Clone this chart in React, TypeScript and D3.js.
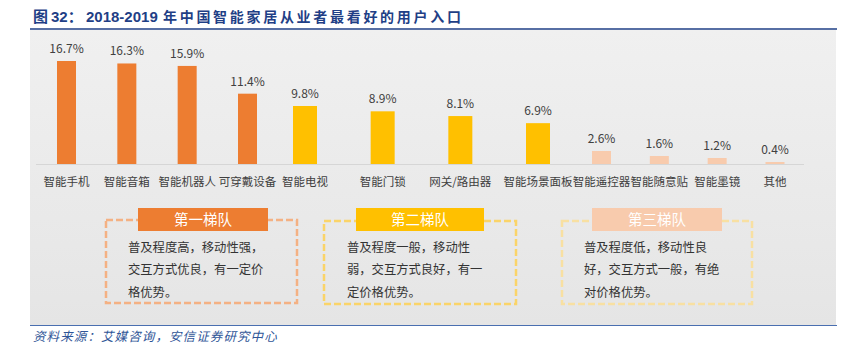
import React from "react";
import * as d3 from "d3";

const tier1Cats = ["智能手机", "智能音箱", "智能机器人", "可穿戴设备"];
const tier1Vals = [16.7, 16.3, 15.9, 11.4];
const tier2Cats = ["智能电视", "智能门锁", "网关/路由器", "智能场景面板"];
const tier2Vals = [9.8, 8.9, 8.1, 6.9];
const tier3Cats = ["智能遥控器", "智能随意贴", "智能墨镜", "其他"];
const tier3Vals = [2.6, 1.6, 1.2, 0.4];

const tierNames = ["第一梯队", "第二梯队", "第三梯队"];
const tierDesc = [
  ["普及程度高，移动性强，", "交互方式优良，有一定价", "格优势。"],
  ["普及程度一般，移动性", "弱，交互方式良好，有一", "定价格优势。"],
  ["普及程度低，移动性良", "好，交互方式一般，有绝", "对价格优势。"],
];

const title = "图 32：2018-2019 年中国智能家居从业者最看好的用户入口";
const source = "资料来源：艾媒咨询，安信证券研究中心";

const W = 850;
const H = 348;
const baseY = 164;
const font = "'Noto Sans CJK SC', 'Noto Sans', sans-serif";

type Tier = {
  cats: string[];
  vals: number[];
  color: string;
  dash: string;
  xRange: [number, number];
  barW: number;
  topY: number;
  box: { x0: number; x1: number; y0: number; y1: number; hx0: number; hx1: number; tx: number };
};

const tiers: Tier[] = [
  {
    cats: tier1Cats, vals: tier1Vals, color: "#ED7D31", dash: "#F4B183",
    xRange: [66.5, 247.5], barW: 19, topY: 61,
    box: { x0: 106, x1: 297, y0: 220, y1: 303, hx0: 138, hx1: 268, tx: 128 },
  },
  {
    cats: tier2Cats, vals: tier2Vals, color: "#FFC000", dash: "#FAD469",
    xRange: [305, 538], barW: 24, topY: 106,
    box: { x0: 324, x1: 516, y0: 221, y1: 304, hx0: 356, hx1: 484, tx: 347 },
  },
  {
    cats: tier3Cats, vals: tier3Vals, color: "#F8CBAD", dash: "#F8E0A2",
    xRange: [601.5, 775], barW: 19, topY: 151,
    box: { x0: 562, x1: 752, y0: 221, y1: 304, hx0: 592, hx1: 722, tx: 584 },
  },
];

export default function App() {
  const titleParts = title.split("年");
  return (
    <svg width={W} height={H} style={{ display: "block", position: "absolute", left: 0, top: 0 }}>
      <defs>
        <linearGradient id="bg" x1="0" y1="0" x2="0" y2="1">
          <stop offset="0" stopColor="#f0f0f0" />
          <stop offset="1" stopColor="#e5e5e5" />
        </linearGradient>
      </defs>
      <rect x={0} y={0} width={W} height={H} fill="#ffffff" />
      {/* title */}
      <text x={33} y={22} fontFamily="'Liberation Sans', 'Noto Sans CJK SC', sans-serif" fontWeight="bold" fontSize={15} fill="#1F3F86">
        <tspan>{titleParts[0].slice(0, 1)}</tspan>
        <tspan x={51}>{titleParts[0].slice(2, 5)}</tspan>
        <tspan x={86}>{titleParts[0].slice(5).trim()}</tspan>
        <tspan x={163} fontFamily={font} fontSize={14} letterSpacing={2.7}>{"年" + titleParts[1]}</tspan>
      </text>
      <line x1={30} x2={837} y1={29} y2={29} stroke="#1F3F86" strokeWidth={1.5} />
      {/* background */}
      <rect x={30} y={30} width={806} height={295} fill="url(#bg)" />
      <line x1={30} x2={837} y1={325.5} y2={325.5} stroke="#4A6FB0" strokeWidth={1.2} />
      {/* axis */}
      <line x1={36} x2={804} y1={baseY + 0.5} y2={baseY + 0.5} stroke="#d6d6d6" strokeWidth={1} />
      {tiers.map((t, ti) => {
        const x = d3.scalePoint<string>().domain(t.cats).range(t.xRange);
        const y = d3.scaleLinear().domain([0, d3.max(t.vals) as number]).range([baseY, t.topY]);
        const b = t.box;
        return (
          <g key={ti}>
            {t.cats.map((c, i) => {
              const cx = x(c) as number;
              const top = y(t.vals[i]);
              return (
                <g key={c}>
                  <rect x={cx - t.barW / 2} y={top} width={t.barW} height={baseY - top} fill={t.color} />
                  <text x={cx} y={top - 8} textAnchor="middle" fontFamily={font} fontSize={12} fill="#404040">
                    {d3.format(".1f")(t.vals[i]) + "%"}
                  </text>
                  <text x={cx} y={186} textAnchor="middle" fontFamily={font} fontSize={11.5} fill="#404040">
                    {c}
                  </text>
                </g>
              );
            })}
            <rect x={b.x0} y={b.y0} width={b.x1 - b.x0} height={b.y1 - b.y0} fill="none" stroke={t.dash} strokeWidth={2.5} strokeDasharray="7,3" />
            <rect x={b.hx0} y={208} width={b.hx1 - b.hx0} height={23} fill={t.color} />
            <text x={(b.hx0 + b.hx1) / 2} y={224.5} textAnchor="middle" fontFamily={font} fontSize={14.5} fill="#ffffff">
              {tierNames[ti]}
            </text>
            {tierDesc[ti].map((line, li) => (
              <text key={li} x={b.tx} y={251.5 + li * 22.5} fontFamily={font} fontSize={12.3} fill="#333333">
                {line}
              </text>
            ))}
          </g>
        );
      })}
      <text x={33} y={341} fontFamily={font} fontStyle="italic" fontSize={12.5} letterSpacing={1.1} fill="#2F5597">
        {source}
      </text>
    </svg>
  );
}
